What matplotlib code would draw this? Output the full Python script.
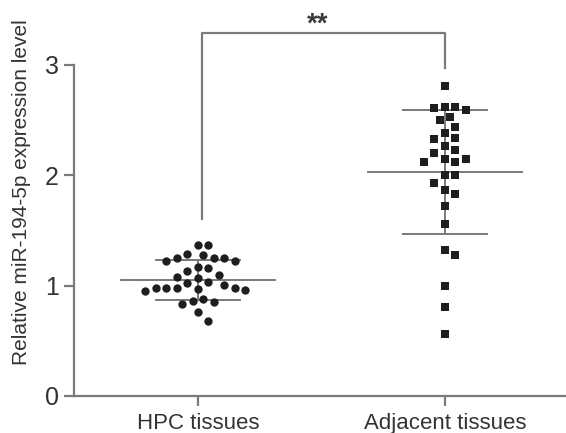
import numpy as np
import matplotlib
matplotlib.use("Agg")
import matplotlib.pyplot as plt

plt.rcParams["font.family"] = ["Liberation Sans", "DejaVu Sans"]

## --Data
groups = ["HPC tissues", "Adjacent tissues"]
hpc = [1.37, 1.37, 1.29, 1.28, 1.25, 1.22, 1.25, 1.22, 1.25, 1.17, 1.13, 1.16,
       1.08, 1.07, 1.10, 1.02, 0.98, 0.98, 0.97, 0.95, 0.96, 0.98, 0.98, 1.01,
       1.03, 0.88, 0.85, 0.83, 0.86, 0.76, 0.68]
adjacent = [2.81, 2.62, 2.61, 2.59, 2.62, 2.53, 2.50, 2.44, 2.38, 2.33, 2.34,
            2.27, 2.23, 2.20, 2.15, 2.12, 2.12, 2.15, 2.00, 2.00, 1.93, 1.87,
            1.83, 1.72, 1.56, 1.32, 1.28, 1.00, 0.81, 0.56]
means = [1.05, 2.03]
sds = [0.18, 0.56]
yticks = [0, 1, 2, 3]
sig_label = "**"

grey = "#7a7a7a"
ink = "#1e1e1e"
txt = "#333333"

fig = plt.figure(figsize=(5.66, 4.33), dpi=100)
ax = fig.add_axes([0.1307, 0.0855, 0.8693, 0.7644])
ax.set_xlim(-0.502, 1.49)
ax.set_ylim(0, 3)


def swarm(values, center, diam_px):
    # simple beeswarm in pixel space
    order = np.argsort(values)[::-1]
    placed = []
    xs = np.zeros(len(values))
    to_px = ax.transData
    cx = to_px.transform((center, 0))[0]
    for i in order:
        py = to_px.transform((center, values[i]))[1]
        for k in range(0, 40):
            off = ((k + 1) // 2) * (diam_px / 2) * (1 if k % 2 else -1)
            px = cx + off
            if all((px - qx) ** 2 + (py - qy) ** 2 >= (diam_px * 0.98) ** 2 for qx, qy in placed):
                break
        placed.append((px, py))
        xs[i] = to_px.inverted().transform((px, py))[0]
    return xs


fig.canvas.draw()
x_hpc = swarm(np.array(hpc), 0, 10.5)
x_adj = swarm(np.array(adjacent), 1, 10.5)

## --Mean and SD lines
for i, (m, s) in enumerate(zip(means, sds)):
    ax.plot([i - 0.31, i + 0.31], [m, m], color=grey, lw=1.4, zorder=2)
    ax.plot([i - 0.17, i + 0.17], [m + s, m + s], color=grey, lw=1.4, zorder=2)
    ax.plot([i - 0.17, i + 0.17], [m - s, m - s], color=grey, lw=1.4, zorder=2)
    ax.plot([i, i], [m - s, m + s], color=grey, lw=1.4, zorder=2)

ax.scatter(x_hpc, hpc, s=36, marker="o", color=ink, linewidths=0, zorder=3)
ax.scatter(x_adj, adjacent, s=34, marker="s", color=ink, linewidths=0, zorder=3)

## --Significance bracket
ax.plot([0.016, 0.016, 1.0, 1.0], [1.60, 3.29, 3.29, 2.97], color=grey, lw=1.6,
        clip_on=False, zorder=2)
ax.text(0.486, 3.30, sig_label, ha="center", va="baseline", fontsize=20,
        fontweight="bold", color="#3a3a3a")

## --Axes styling
for side in ["top", "right"]:
    ax.spines[side].set_visible(False)
for side in ["left", "bottom"]:
    ax.spines[side].set_color(grey)
    ax.spines[side].set_linewidth(1.6)

ax.set_xticks([0, 1])
ax.set_xticklabels(groups, fontsize=16, color=txt)
ax.set_yticks(yticks)
ax.set_yticklabels([str(t) for t in yticks], fontsize=18, color=txt)
ax.tick_params(axis="both", colors=grey, length=7, width=1.6, labelcolor=txt)
ax.tick_params(axis="x", pad=5)
ax.tick_params(axis="y", pad=4)
ax.set_ylabel("Relative miR-194-5p expression level", fontsize=15, color=txt)
ax.yaxis.set_label_coords(-0.088, 0.616)

fig.savefig("out.png", dpi=100)
